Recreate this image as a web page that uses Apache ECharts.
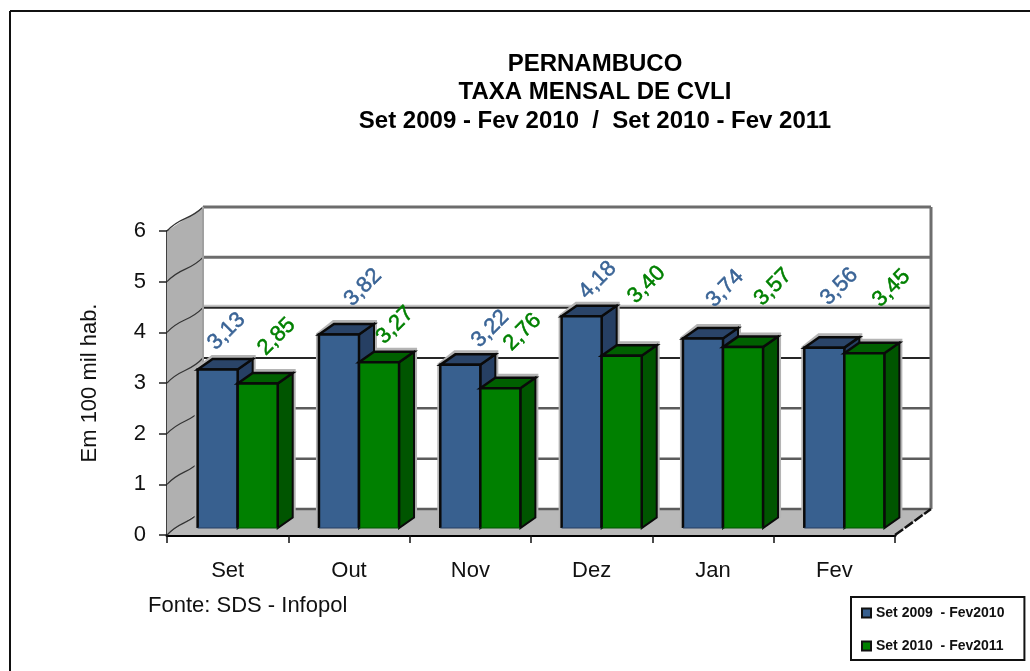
<!DOCTYPE html>
<html>
<head>
<meta charset="utf-8">
<style>html,body{margin:0;padding:0;background:#fff}#c{width:1030px;height:671px}</style>
<script src="https://cdn.jsdelivr.net/npm/echarts@6/dist/echarts.min.js"></script>
</head>
<body>
<div id="c"></div>
<script>
const categories = ['Set', 'Out', 'Nov', 'Dez', 'Jan', 'Fev'];
const seriesAName = 'Set 2009  - Fev2010';
const seriesBName = 'Set 2010  - Fev2011';
const seriesA = [3.13, 3.82, 3.22, 4.18, 3.74, 3.56];
const seriesB = [2.85, 3.27, 2.76, 3.40, 3.57, 3.45];
const valueTicks = [0, 1, 2, 3, 4, 5, 6];
const titleLines = ['PERNAMBUCO', 'TAXA MENSAL DE CVLI', 'Set 2009 - Fev 2010  /  Set 2010 - Fev 2011'];
const sourceNote = 'Fonte: SDS - Infopol';
const axisName = 'Em 100 mil hab.';

// manual label placement in the original, relative to each bar's top-front centre
const labelShiftA = [[9,-38],[24,-47],[30,-36],[16,-36],[22,-50],[15,-61]];
const labelShiftB = [[19,-47],[16,-37],[22,-56],[25,-71],[30,-60],[27,-65]];

const FONT = '"Liberation Sans", Arial, sans-serif';
const WALL = {dx: 36, dyBase: -26, dyTop: -24};  // depth of the whole plot box
const BAR = {dx: 15, dy: -10.5, inX: 10, inY: -7, ratio: 0.33}; // bar depth and inset in the box

const fmt = v => v.toFixed(2).replace('.', ',');

function wallRender(params, api) {
  const t = api.value(1);
  const band = api.size([1, 0])[0];
  const p = api.coord([0, t]);
  const x0 = p[0] - band / 2, y = p[1];
  const base = api.coord([0, 0])[1], top = api.coord([0, 6])[1];
  const x1 = x0 + band * 6;
  const bx0 = x0 + WALL.dx, bx1 = x1 + WALL.dx;
  const back = yy => yy + WALL.dyBase + (WALL.dyTop - WALL.dyBase) * (base - yy) / (base - top);
  const by = back(y), bBase = back(base), bTop = back(top);
  const children = [];
  if (params.dataIndex === 0) {
    children.push(
      {type: 'polygon', z2: -6, shape: {points: [[bx0, bBase], [bx1, bBase], [bx1, bTop], [bx0, bTop]]}, style: {fill: '#fff'}},
      {type: 'polygon', z2: -5, shape: {points: [[x0, base], [x0, top], [bx0, bTop], [bx0, bBase]]}, style: {fill: '#b0b0b0'}},
      {type: 'polygon', z2: -5, shape: {points: [[x0, base], [x1, base], [bx1, bBase], [bx0, bBase]]}, style: {fill: '#b8b8b8'}},
      {type: 'line', z2: -3, shape: {x1: bx1, y1: bTop, x2: bx1, y2: bBase}, style: {stroke: '#6e6e6e', lineWidth: 3}},
      {type: 'line', z2: -3, shape: {x1: bx0, y1: bTop, x2: bx0, y2: bBase}, style: {stroke: '#a0a0a0', lineWidth: 2}},
      {type: 'line', z2: -3, shape: {x1: x1, y1: base, x2: bx1, y2: bBase}, style: {stroke: '#111', lineWidth: 2.5, lineDash: [10, 2]}}
    );
  }
  const dark = t === 3 || t === 4;
  if (t === 4) {
    children.push({type: 'line', z2: -4, shape: {x1: bx0, y1: by - 2, x2: bx1, y2: by - 2}, style: {stroke: '#c4c4c4', lineWidth: 2}});
  }
  children.push({
    type: 'line', z2: -4,
    shape: {x1: bx0, y1: by, x2: bx1, y2: by},
    style: {stroke: dark ? '#262626' : (t >= 5 ? '#6c6c6c' : '#5c5c5c'), lineWidth: dark ? 2 : (t >= 5 ? 3 : 2.5)}
  });
  children.push({
    type: 'bezierCurve', z2: -4,
    shape: {x1: x0, y1: y, x2: bx0, y2: by, cpx1: x0 + 14, cpy1: y - 15, cpx2: x0 + 22, cpy2: y - 10},
    style: {stroke: '#333', lineWidth: 1.2, fill: null}
  });
  return {type: 'group', children};
}

function barRender(slot, front, side, top, labelColor, shifts, z) {
  return function (params, api) {
    const i = api.value(0), v = api.value(1);
    const band = api.size([1, 0])[0];
    const w = band * BAR.ratio;
    const c = api.coord([i, 0]);
    const x0 = c[0] + BAR.inX + (slot === 0 ? -w : 0);
    const x1 = x0 + w;
    const yb = c[1] + BAR.inY;
    const yt = yb - api.size([0, v])[1];
    const d = BAR;
    const faceStroke = {stroke: '#0a0a0a', lineWidth: 2.5, lineJoin: 'miter'};
    const shift = shifts[params.dataIndex];
    return {
      type: 'group',
      children: [
        {type: 'polygon', z2: -1, shape: {points: [
          [x0 - 3, yb], [x0 - 3, yt - 1], [x0 + d.dx - 1, yt + d.dy - 4], [x1 + d.dx + 3, yt + d.dy - 4],
          [x1 + d.dx + 3, yb + d.dy], [x1, yb]
        ]}, style: {fill: '#b4b4b4'}},
        {type: 'polygon', z2: z, shape: {points: [[x1, yb], [x1, yt], [x1 + d.dx, yt + d.dy], [x1 + d.dx, yb + d.dy]]},
          style: {fill: side, stroke: '#0a0a0a', lineWidth: 2}},
        {type: 'polygon', z2: z, shape: {points: [[x0, yt], [x1, yt], [x1 + d.dx, yt + d.dy], [x0 + d.dx, yt + d.dy]]},
          style: Object.assign({fill: top}, faceStroke)},
        {type: 'rect', z2: z, shape: {x: x0, y: yt, width: w, height: yb - yt}, style: {fill: front}},
        {type: 'polyline', z2: z, shape: {points: [[x0, yb], [x0, yt], [x1, yt], [x1, yb]]},
          style: Object.assign({fill: null}, faceStroke)},
        {type: 'line', z2: z, shape: {x1: x0, y1: yb, x2: x1, y2: yb}, style: {stroke: side, lineWidth: 1}},
        {type: 'text', z2: 5, x: (x0 + x1) / 2 + shift[0], y: yt + shift[1], rotation: Math.PI / 4,
          style: {text: fmt(v), fill: labelColor, stroke: labelColor, lineWidth: 0.5, font: '22px ' + FONT, align: 'center', verticalAlign: 'middle'}}
      ]
    };
  };
}

const chart = echarts.init(document.getElementById('c'));
chart.setOption({
  animation: false,
  backgroundColor: '#fff',
  title: {
    text: titleLines.join('\n'),
    left: 590, top: 45, textAlign: 'center',
    textStyle: {fontFamily: FONT, fontWeight: 'bold', fontSize: 24, lineHeight: 28.5, color: '#000'}
  },
  legend: {
    data: [seriesAName, seriesBName],
    orient: 'vertical',
    left: 851, top: 597,
    padding: [9, 20, 7, 10],
    itemWidth: 9, itemHeight: 9, itemGap: 19,
    icon: 'rect',
    borderColor: '#111', borderWidth: 2,
    textStyle: {fontFamily: FONT, fontWeight: 'bold', fontSize: 14, color: '#111'}
  },
  grid: {left: 167, right: 135, top: 231, bottom: 136},
  xAxis: {
    type: 'category',
    data: categories,
    boundaryGap: true,
    axisLine: {lineStyle: {color: '#000', width: 3}},
    axisTick: {show: true, alignWithLabel: false, length: 8, lineStyle: {color: '#111', width: 1.5}},
    axisLabel: {fontFamily: FONT, fontSize: 22, color: '#111', margin: 25}
  },
  yAxis: {
    type: 'value', min: 0, max: 6, interval: 1,
    name: axisName, nameLocation: 'middle', nameGap: 66, nameRotate: 90,
    nameTextStyle: {fontFamily: FONT, fontSize: 22, color: '#111'},
    axisLine: {show: true, lineStyle: {color: '#000', width: 2.5}},
    axisTick: {show: true, length: 8, lineStyle: {color: '#222', width: 1.5}},
    axisLabel: {fontFamily: FONT, fontSize: 22, color: '#111', margin: 21},
    splitLine: {show: false}
  },
  series: [
    {type: 'custom', name: 'wall', z: 1, silent: true, encode: {x: 0, y: 1},
      data: valueTicks.map(t => [0, t]), renderItem: wallRender},
    {type: 'custom', name: seriesAName, encode: {x: 0, y: 1},
      itemStyle: {color: '#38608f', borderColor: '#111', borderWidth: 1.5},
      data: seriesA.map((v, i) => [i, v]),
      renderItem: barRender(0, '#38608f', '#263f63', '#2a4468', '#3a6496', labelShiftA, 1)},
    {type: 'custom', name: seriesBName, encode: {x: 0, y: 1},
      itemStyle: {color: '#008000', borderColor: '#111', borderWidth: 1.5},
      data: seriesB.map((v, i) => [i, v]),
      renderItem: barRender(1, '#008000', '#005500', '#006000', '#008000', labelShiftB, 2)}
  ],
  graphic: [
    {type: 'line', shape: {x1: 10, y1: 11, x2: 1030, y2: 11}, style: {stroke: '#111', lineWidth: 2}},
    {type: 'line', shape: {x1: 10, y1: 11, x2: 10, y2: 671}, style: {stroke: '#111', lineWidth: 2}},
    {type: 'text', left: 148, top: 595, style: {text: sourceNote, fill: '#111', font: '22px ' + FONT}}
  ]
});
</script>
</body>
</html>
